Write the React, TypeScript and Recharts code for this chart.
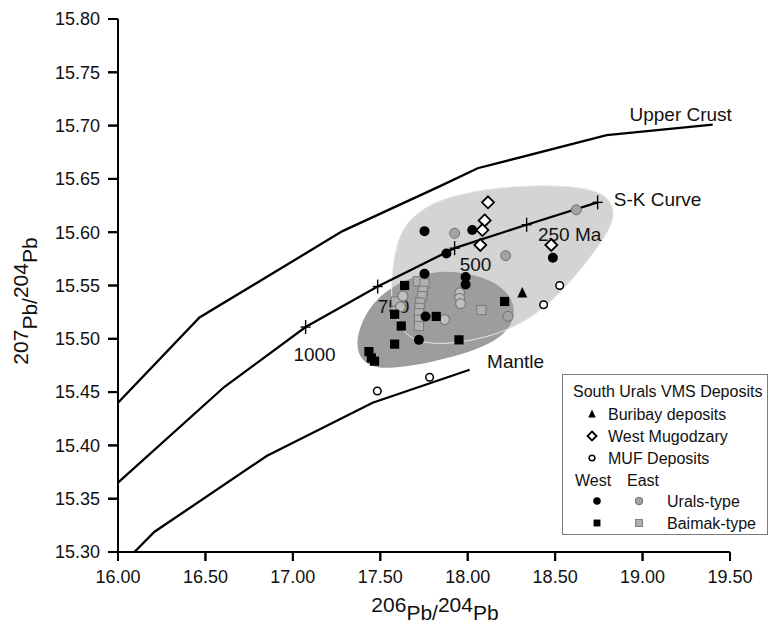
import React from 'react';
import { ScatterChart, Scatter, XAxis, YAxis, Curve, Label } from 'recharts';

const FONT = '"Liberation Sans", Arial, Helvetica, sans-serif';

type Pt = { x: number; y: number };
const pts = (a: number[][]): Pt[] => a.map(([x, y]) => ({ x, y }));

const xDomain = [16, 19.5];
const yDomain = [15.3, 15.8];
const xTicks = [16, 16.5, 17, 17.5, 18, 18.5, 19, 19.5];
const yTicks = [15.3, 15.35, 15.4, 15.45, 15.5, 15.55, 15.6, 15.65, 15.7, 15.75, 15.8];

// growth curves
const upperCrust = pts([[16.0, 15.44], [16.466, 15.52], [17.284, 15.601], [17.839, 15.643], [18.057, 15.66], [18.795, 15.691], [19.401, 15.701]]);
const skCurve = pts([[16.0, 15.365], [16.609, 15.455], [17.073, 15.511], [17.485, 15.549], [17.925, 15.585], [18.337, 15.607], [18.743, 15.628]]);
const skAges = pts([[17.073, 15.511], [17.485, 15.549], [17.925, 15.585], [18.337, 15.607], [18.743, 15.628]]);
const mantle = pts([[16.094, 15.3], [16.209, 15.319], [16.85, 15.39], [17.456, 15.44], [18.011, 15.471]]);

// shaded fields
const lightField = pts([
  [17.56, 15.551], [17.588, 15.59], [17.665, 15.613], [17.81, 15.629], [18.011, 15.638], [18.24, 15.643],
  [18.497, 15.644], [18.7, 15.641], [18.805, 15.633], [18.845, 15.618], [18.805, 15.6], [18.7, 15.576],
  [18.554, 15.547], [18.383, 15.521], [18.211, 15.507], [18.068, 15.5], [17.896, 15.495], [17.725, 15.496],
  [17.627, 15.506], [17.568, 15.529],
]);
const darkField = pts([
  [17.36, 15.495], [17.385, 15.512], [17.434, 15.528], [17.504, 15.541], [17.599, 15.552], [17.725, 15.56],
  [17.868, 15.564], [18.011, 15.561], [18.154, 15.554], [18.248, 15.54], [18.275, 15.524], [18.23, 15.507],
  [18.125, 15.495], [17.982, 15.486], [17.794, 15.478], [17.61, 15.473], [17.48, 15.472], [17.39, 15.479],
]);

// deposits
const buribay = pts([[18.312, 15.543]]);
const westMugodzary = pts([[18.116, 15.628], [18.097, 15.611], [18.084, 15.602], [18.072, 15.588], [18.478, 15.588]]);
const mufDeposits = pts([[18.526, 15.55], [18.434, 15.532], [17.483, 15.451], [17.782, 15.464]]);
const westUrals = pts([
  [17.753, 15.601], [18.026, 15.602], [17.878, 15.58], [17.753, 15.561], [17.988, 15.558],
  [17.988, 15.551], [18.487, 15.576], [17.759, 15.521], [17.721, 15.499],
]);
const eastUrals = pts([[17.925, 15.599], [18.217, 15.578], [18.621, 15.621], [18.23, 15.521]]);
const eastUralsPale = pts([[17.954, 15.543], [17.954, 15.538], [17.959, 15.533], [17.868, 15.518], [17.629, 15.54], [17.616, 15.53]]);
const westBaimak = pts([
  [17.639, 15.55], [17.582, 15.523], [17.62, 15.512], [17.82, 15.521], [18.211, 15.535],
  [17.582, 15.495], [17.95, 15.499], [17.435, 15.488], [17.449, 15.482], [17.467, 15.479],
]);
const eastBaimak = pts([
  [17.715, 15.554], [17.753, 15.552], [17.744, 15.545], [17.74, 15.54], [17.729, 15.534],
  [17.725, 15.529], [17.721, 15.524], [17.721, 15.518], [17.721, 15.512], [18.078, 15.527], [17.59, 15.535],
]);

const curveLabels = [
  { x: 19.218, y: 15.71, text: 'Upper Crust' },
  { x: 19.086, y: 15.631, text: 'S-K Curve' },
  { x: 18.583, y: 15.598, text: '250 Ma' },
  { x: 18.045, y: 15.57, text: '500' },
  { x: 17.576, y: 15.53, text: '750' },
  { x: 17.124, y: 15.485, text: '1000' },
  { x: 18.274, y: 15.479, text: 'Mantle' },
];

const legendSymbols = [
  { label: 'Buribay deposits', marker: 'triangle' },
  { label: 'West Mugodzary', marker: 'diamond' },
  { label: 'MUF Deposits', marker: 'muf' },
];
const legendTypes = [
  { label: 'Urals-type', west: 'circle', east: 'grayCircle' },
  { label: 'Baimak-type', west: 'square', east: 'graySquare' },
];

// tick marks placed through the chart scales (backup for the axis tick lines)
const xTickMarks = xTicks.map((x) => ({ x, y: yDomain[0] }));
const yTickMarks = yTicks.map((y) => ({ x: xDomain[0], y }));

const noDot = () => <g />;
const blob = (fill: string, stroke = 'none', sw = 0) => (p: any) => (
  <Curve points={p.points} type="basisClosed" fill={fill} stroke={stroke} strokeWidth={sw} />
);
const polyline = (w: number) => (p: any) => <Curve points={p.points} type="linear" fill="none" stroke="#000" strokeWidth={w} />;

const xTickShape = (p: any) => <line x1={p.cx} x2={p.cx} y1={p.cy} y2={p.cy + 9} stroke="#000" strokeWidth={2} />;
const yTickShape = (p: any) => <line x1={p.cx - 10} x2={p.cx} y1={p.cy} y2={p.cy} stroke="#000" strokeWidth={2} />;

const cross = (p: any) => (
  <g stroke="#000" strokeWidth={1.4}>
    <line x1={p.cx} y1={p.cy - 7} x2={p.cx} y2={p.cy + 7} />
    <line x1={p.cx - 5} y1={p.cy} x2={p.cx + 5} y2={p.cy} />
  </g>
);
const textShape = (p: any) => (
  <text x={p.cx} y={p.cy} textAnchor="middle" dominantBaseline="central" fontSize={19} fontFamily={FONT} fill="#111">
    {p.payload.text}
  </text>
);

function marker(kind: string, cx: number, cy: number, s = 1) {
  switch (kind) {
    case 'circle':
      return <circle cx={cx} cy={cy} r={5 * s} fill="#000" />;
    case 'grayCircle':
      return <circle cx={cx} cy={cy} r={5 * s} fill="#a3a3a3" stroke="#6e6e6e" strokeWidth={1} />;
    case 'paleCircle':
      return <circle cx={cx} cy={cy} r={5 * s} fill="#bfbfbf" stroke="#7d7d7d" strokeWidth={1.3} />;
    case 'square':
      return <rect x={cx - 4.6 * s} y={cy - 4.6 * s} width={9.2 * s} height={9.2 * s} fill="#000" />;
    case 'graySquare':
      return <rect x={cx - 4.6 * s} y={cy - 4.6 * s} width={9.2 * s} height={9.2 * s} fill="#b0b0b0" stroke="#7a7a7a" strokeWidth={1} />;
    case 'diamond':
      return (
        <polygon
          points={`${cx},${cy - 6 * s} ${cx + 6 * s},${cy} ${cx},${cy + 6 * s} ${cx - 6 * s},${cy}`}
          fill="#fff" stroke="#000" strokeWidth={1.8}
        />
      );
    case 'triangle':
      return <polygon points={`${cx},${cy - 6 * s} ${cx + 5 * s},${cy + 4.5 * s} ${cx - 5 * s},${cy + 4.5 * s}`} fill="#000" />;
    case 'muf':
      return <circle cx={cx} cy={cy} r={3.8 * s} fill="#fff" stroke="#000" strokeWidth={1.5} />;
    default:
      return <g />;
  }
}
const shapeOf = (kind: string) => (p: any) => marker(kind, p.cx, p.cy);

function XTick(props: any) {
  const { x, y, payload } = props;
  return (
    <text x={x} y={y} dy="0.71em" textAnchor="middle" fontSize={18} fontFamily={FONT} fill="#111">
      {Number(payload.value).toFixed(2)}
    </text>
  );
}
function YTick(props: any) {
  const { x, y, payload } = props;
  return (
    <text x={x} y={y} dy="0.355em" textAnchor="end" fontSize={18} fontFamily={FONT} fill="#111">
      {Number(payload.value).toFixed(2)}
    </text>
  );
}

function XTitle(props: any) {
  const vb = props.viewBox;
  const cx = vb.x + vb.width / 2 + 11;
  return (
    <text x={cx} y={vb.y + 60} textAnchor="middle" fontSize={21} fontFamily={FONT} fill="#111">
      <tspan>206</tspan>
      <tspan dy={8}>Pb/</tspan>
      <tspan dy={-8}>204</tspan>
      <tspan dy={8}>Pb</tspan>
    </text>
  );
}

function YTitle() {
  const x = 28;
  const y = 301;
  return (
    <text x={x} y={y} transform={`rotate(-90, ${x}, ${y})`} textAnchor="middle" fontSize={21} fontFamily={FONT} fill="#111">
      <tspan>207</tspan>
      <tspan dy={9}>Pb/</tspan>
      <tspan dy={-9}>204</tspan>
      <tspan dy={9}>Pb</tspan>
    </text>
  );
}

function LegendBox() {
  const rowY = [39, 61, 83];
  return (
    <div
      style={{
        position: 'absolute', left: 562, top: 374, width: 206, height: 161, boxSizing: 'border-box',
        border: '1.5px solid #7a7a7a', background: '#fff',
      }}
    >
      <svg width={204} height={158} style={{ display: 'block' }}>
        <g fontFamily={FONT} fontSize={16} fill="#111">
          <text x={10} y={16} dominantBaseline="central">South Urals VMS Deposits</text>
          {legendSymbols.map((e, i) => (
            <g key={e.label}>
              {marker(e.marker, 29, rowY[i], 0.75)}
              <text x={45} y={rowY[i]} dominantBaseline="central">{e.label}</text>
            </g>
          ))}
          <text x={12} y={105} dominantBaseline="central">West</text>
          <text x={64} y={105} dominantBaseline="central">East</text>
          {legendTypes.map((t, i) => (
            <g key={t.label}>
              {marker(t.west, 34, 126 + i * 22, 0.75)}
              {marker(t.east, 76, 126 + i * 22, 0.75)}
              <text x={104} y={126 + i * 22} dominantBaseline="central">{t.label}</text>
            </g>
          ))}
        </g>
      </svg>
    </div>
  );
}

export default function App() {
  return (
    <div style={{ position: 'absolute', left: 0, top: 0, width: 769, height: 623 }}>
      <ScatterChart width={769} height={623} margin={{ top: 19, right: 39, bottom: 0, left: 0 }}>
        <XAxis
          type="number" dataKey="x" domain={xDomain} ticks={xTicks} height={71}
          axisLine={{ stroke: '#000', strokeWidth: 2 }} tickLine={{ stroke: '#000', strokeWidth: 2 }}
          tickSize={9} tickMargin={9} tick={<XTick />}
          label={<Label content={XTitle} />}
        />
        <YAxis
          type="number" dataKey="y" domain={yDomain} ticks={yTicks} width={118}
          axisLine={{ stroke: '#000', strokeWidth: 2 }} tickLine={{ stroke: '#000', strokeWidth: 2 }}
          tickSize={10} tickMargin={8} tick={<YTick />}
          label={<Label content={YTitle} />}
        />
        <Scatter data={lightField} line={blob('#d4d4d4')} shape={noDot} isAnimationActive={false} />
        <Scatter data={darkField} line={blob('#9d9d9d')} shape={noDot} isAnimationActive={false} />
        <Scatter data={lightField} line={blob('none', '#e8e8e8', 1)} shape={noDot} isAnimationActive={false} />
        <Scatter data={xTickMarks} shape={xTickShape} isAnimationActive={false} />
        <Scatter data={yTickMarks} shape={yTickShape} isAnimationActive={false} />
        <Scatter data={upperCrust} line={polyline(2.3)} shape={noDot} isAnimationActive={false} />
        <Scatter data={skCurve} line={polyline(2.3)} shape={noDot} isAnimationActive={false} />
        <Scatter data={mantle} line={polyline(2.3)} shape={noDot} isAnimationActive={false} />
        <Scatter data={skAges} shape={cross} isAnimationActive={false} />
        <Scatter data={curveLabels} shape={textShape} isAnimationActive={false} />
        <Scatter data={eastBaimak} shape={shapeOf('graySquare')} isAnimationActive={false} />
        <Scatter data={eastUralsPale} shape={shapeOf('paleCircle')} isAnimationActive={false} />
        <Scatter data={eastUrals} shape={shapeOf('grayCircle')} isAnimationActive={false} />
        <Scatter data={westBaimak} shape={shapeOf('square')} isAnimationActive={false} />
        <Scatter data={westUrals} shape={shapeOf('circle')} isAnimationActive={false} />
        <Scatter data={westMugodzary} shape={shapeOf('diamond')} isAnimationActive={false} />
        <Scatter data={buribay} shape={shapeOf('triangle')} isAnimationActive={false} />
        <Scatter data={mufDeposits} shape={shapeOf('muf')} isAnimationActive={false} />
      </ScatterChart>
      <LegendBox />
    </div>
  );
}
